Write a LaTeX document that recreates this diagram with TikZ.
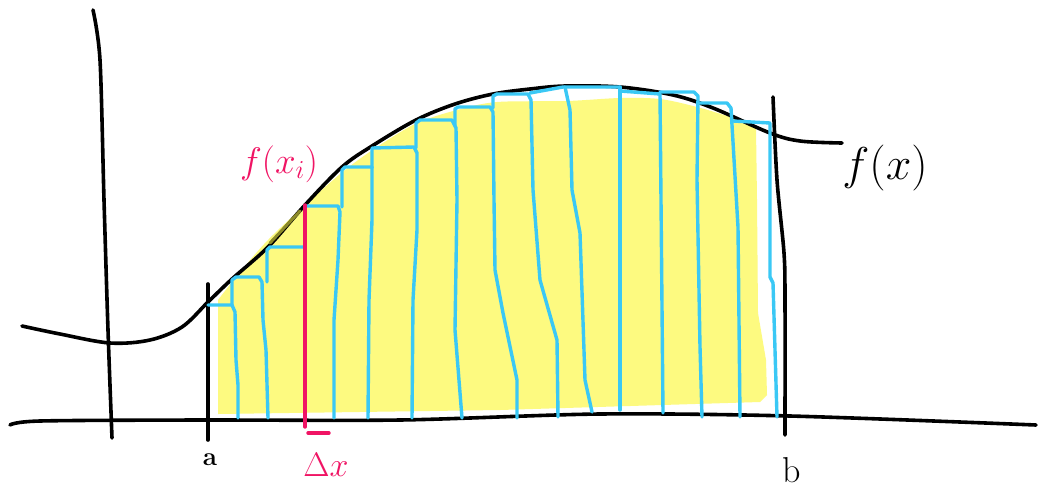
\RequirePackage{fix-cm}
\documentclass[tikz,border=0pt]{standalone}
\usepackage{tikz}
\definecolor{hlyellow}{RGB}{253,250,128}
\definecolor{skyblue}{RGB}{58,200,245}
\definecolor{hotpink}{RGB}{240,20,100}
\definecolor{olivemark}{RGB}{140,138,40}
\tikzset{
  ink/.style={line width=3.6pt, line cap=round, line join=round, black},
  bluestroke/.style={line width=3.4pt, line cap=round, line join=round, skyblue},
  pinkstroke/.style={line width=3.4pt, line cap=round, hotpink},
  lbl/.style={inner sep=0pt, anchor=center}
}
\begin{document}
\begin{tikzpicture}[x=1pt,y=-1pt]
\useasboundingbox[fill=white] (0,0) rectangle (1038,493);
% yellow shading
\fill[hlyellow] plot[smooth, tension=0.5] coordinates {(218,300) (240,272) (268,240) (305,205) (345,170) (380,145) (417,123) (457,110) (497,102) (567,101) (620,98) (660,99) (697,107) (733,118) (756,128)}
  -- (757,200) -- (758,313) -- (766,360) -- (767,395) -- (760,402) -- (500,410) -- (218,414) -- cycle;
% axes
\draw[ink] plot[smooth, tension=0.5] coordinates {(10,425) (40,421) (200,420) (400,420) (600,414) (790,416) (1036,425)};
\draw[ink] plot[smooth, tension=0.5] coordinates {(93,10) (100,60) (104,200) (108,330) (112,438)};
% curve f(x)
\draw[ink] plot[smooth, tension=0.55] coordinates {(22,326) (60,334) (110,343) (150,340) (182,327) (208,302) (232,279) (268,247) (305,205) (342,167) (372,146) (416,120) (455,104) (493,94) (530,89) (565,86) (620,87) (673,95) (713,108) (770,133) (800,141) (842,143)};
\draw[olivemark, line width=3pt, line cap=round] (270,243) -- (300,211);
% a and b verticals
\draw[ink] (208,284) -- (208,440);
\draw[ink] plot[smooth, tension=0.5] coordinates {(773,97) (777,180) (784,253) (785,300) (785,435)};
% blue strips
\draw[bluestroke] (208,305) -- (232,305) -- (235,312) -- (236,360) -- (238,385) -- (238,418);
\draw[bluestroke] (232,305) -- (232,280) -- (236,277) -- (259,277) -- (262,282) -- (263,320) -- (266,350) -- (268,418);
\draw[bluestroke] (267,282) -- (267,250) -- (270,247) -- (303,247);
\draw[bluestroke] (305,206) -- (338,206) -- (340,212) -- (338,260) -- (334,320) -- (334,418);
\draw[bluestroke] (342,207) -- (342,170) -- (345,167) -- (372,167);
\draw[bluestroke] (372,167) -- (372,220) -- (369,300) -- (368,418);
\draw[bluestroke] (372,168) -- (372,148) -- (414,147) -- (417,153) -- (417,230) -- (413,300) -- (412,418);
\draw[bluestroke] (416,148) -- (416,123) -- (420,120) -- (452,120) -- (456,128) -- (457,200) -- (455,330) -- (462,418);
\draw[bluestroke] (455,125) -- (455,109) -- (458,107) -- (490,107) -- (493,112) -- (494,200) -- (495,270) -- (503,313) -- (517,380) -- (517,418);
\draw[bluestroke] (493,108) -- (493,96) -- (497,94) -- (528,94) -- (531,100) -- (533,190) -- (540,280) -- (557,340) -- (558,417);
\draw[bluestroke] (530,93) -- (563,87) -- (620,87);
\draw[bluestroke] (565,87) -- (570,110) -- (572,190) -- (580,233) -- (585,380) -- (592,412);
\draw[bluestroke] (620,87) -- (620,410);
\draw[bluestroke] (620,91) -- (660,94) -- (663,413);
\draw[bluestroke] (660,92) -- (694,92) -- (698,96) -- (697,180) -- (700,347) -- (702,417);
\draw[bluestroke] (699,103) -- (727,103) -- (731,108) -- (738,227) -- (740,417);
\draw[bluestroke] (733,121) -- (770,123) -- (770,277) -- (773,283) -- (777,417);
% pink marker
\draw[pinkstroke] (305,205) -- (305,427);
\draw[pinkstroke] (308,433) -- (329,433);
% labels
\node[lbl, text=hotpink] (fxi) at (279,164) {\fontsize{37}{40}\selectfont$f(x_i)$};
\node[lbl, text=hotpink] (dx) at (326,465) {\fontsize{34}{38}\selectfont$\Delta x$};
\node[lbl] (fx) at (885,168) {\fontsize{46}{50}\selectfont$f(x)$};
\node[lbl] (la) at (210,460) {\fontsize{26}{28}\selectfont\bfseries a};
\node[lbl] (lb) at (792,470) {\fontsize{36}{40}\selectfont b};
\end{tikzpicture}
\end{document}
